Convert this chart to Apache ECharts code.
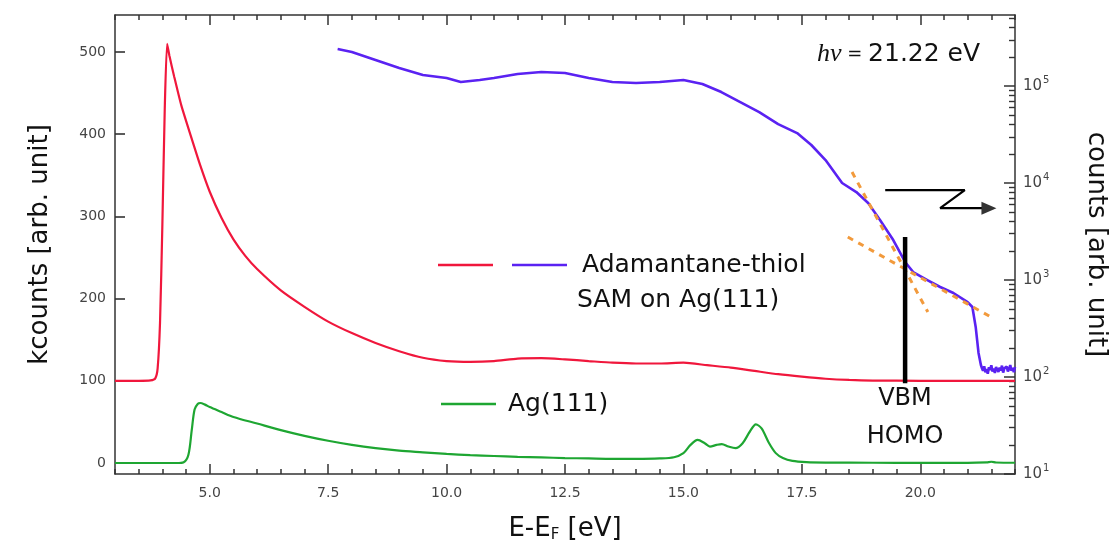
<!DOCTYPE html>
<html>
<head>
<meta charset="utf-8">
<script src="https://cdn.jsdelivr.net/npm/echarts@6/dist/echarts.min.js"></script>
<style>html,body{margin:0;padding:0;background:#fff}#main{width:1117px;height:548px}</style>
</head>
<body>
<div id="main"></div>
<script>
// E-EF [eV] / kcounts, Adamantane-thiol SAM (red, left axis)
var adaE = [3.0, 3.5, 3.75, 3.85, 3.9, 3.95, 4.0, 4.05, 4.1, 4.15, 4.25, 4.4, 4.6, 4.8, 5.0, 5.25, 5.5, 5.75, 6.0, 6.5, 7.0, 7.5, 8.0, 8.5, 9.0, 9.5, 10.0, 10.5, 11.0, 11.5, 12.0, 12.5, 13.0, 13.5, 14.0, 14.5, 15.0, 15.5, 16.0, 16.5, 17.0, 17.5, 18.0, 18.5, 19.0, 20.0, 21.0, 22.0];
var adaK = [100, 100, 100.5, 103, 115, 170, 290, 430, 510, 495, 470, 435, 398, 362, 330, 298, 272, 252, 236, 210, 190, 172, 158, 146, 136, 128, 124, 123, 124, 127, 127.5, 126, 124, 122, 121, 121, 122, 119, 116, 112, 108, 105, 102.5, 101, 100.3, 100, 100, 100];

// Ag(111) (green, left axis)
var agE = [3.0, 4.3, 4.45, 4.55, 4.62, 4.68, 4.75, 4.8, 4.9, 5.0, 5.25, 5.5, 6.0, 6.5, 7.0, 7.5, 8.0, 8.5, 9.0, 9.5, 10.0, 10.5, 11.0, 11.5, 12.0, 12.5, 13.0, 13.5, 14.0, 14.5, 14.8, 15.0, 15.15, 15.3, 15.45, 15.56, 15.7, 15.81, 15.95, 16.1, 16.25, 16.4, 16.53, 16.65, 16.8, 16.95, 17.1, 17.3, 17.6, 18.0, 19.0, 20.0, 21.0, 21.4, 21.5, 21.6, 22.0];
var agK = [0, 0, 1, 10, 40, 65, 72, 73, 71, 68, 62, 56, 48, 40, 33, 27, 22, 18, 15, 13, 11, 9.5, 8.5, 7.5, 6.8, 6, 5.5, 5, 5, 5.5, 7, 12, 22, 28, 24, 20, 22, 23, 20, 18, 24, 38, 47, 42, 25, 12, 6, 2.5, 1, 0.5, 0.3, 0.2, 0.2, 0.8, 1.5, 0.6, 0.3];

// SAM on log scale (blue, right axis), counts
var logE = [7.7, 8.0, 8.5, 9.0, 9.5, 10.0, 10.3, 10.7, 11.0, 11.5, 12.0, 12.5, 13.0, 13.5, 14.0, 14.5, 15.0, 15.4, 15.8, 16.2, 16.6, 17.0, 17.4, 17.7, 18.0, 18.35, 18.65, 18.9, 19.15, 19.43, 19.68, 19.85, 20.15, 20.42, 20.7, 21.0, 21.1, 21.17, 21.23, 21.28,
  21.3, 21.325, 21.35, 21.375, 21.4, 21.425, 21.45, 21.475, 21.5, 21.525, 21.55, 21.575, 21.6, 21.625, 21.65, 21.675, 21.7, 21.725, 21.75, 21.775, 21.8, 21.825, 21.85, 21.875, 21.9, 21.925, 21.95, 21.975, 22.0];
var logC = [240500, 224300, 185400, 153400, 129800, 120900, 109900, 115300, 120900, 133000, 139400, 136200, 120900, 109900, 107400, 109900, 115300, 104900, 86700, 68400, 53950, 40550, 32750, 24660, 17260, 10000, 8075, 6220, 4160, 2585, 1535, 1208, 1000, 847, 735, 593, 527, 328, 177, 133,
  124, 116, 129, 112, 121, 108, 126, 118, 132, 114, 122, 110, 127, 119, 113, 125, 117, 131, 111, 123, 118, 128, 114, 121, 133, 116, 124, 112, 127];

// tangent lines (right axis)
var tan1E = [18.56, 20.16], tan1C = [12970, 468];
var tan2E = [18.47, 21.49], tan2C = [2775, 416];

// VBM marker (left axis)
var vbmE = [19.68, 19.68], vbmK = [97, 275];

// arrow pointing to the right axis (left axis units)
var arrowE = [19.26, 20.94, 20.42, 21.3], arrowK = [332, 332, 310, 310];

// ticks
var xLabels = [5, 7.5, 10, 12.5, 15, 17.5, 20];
var xMinor = [];
for (var t = 3; t <= 22.001; t += 0.5) xMinor.push(+t.toFixed(1));
var yLeftTicks = [0, 100, 200, 300, 400, 500];
var yRightTicks = [10, 100, 1000, 10000, 100000];
var yRightMinor = [];
yRightTicks.forEach(function (d) {
  for (var k = 2; k <= 9; k++) yRightMinor.push(d * k);
});

function pairs(xs, ys) {
  return xs.map(function (x, i) { return [x, ys[i]]; });
}

var FONT = 'DejaVu Sans';
var AX = '#333';

var dom = document.getElementById('main');
var myChart = echarts.init(dom, null, { renderer: 'canvas' });

function xAx(pos, ticks, len, opts) {
  return Object.assign({
    type: 'value', gridIndex: 0, position: pos, min: 3, max: 22,
    axisLine: { show: false, onZero: false },
    axisTick: { show: true, inside: true, length: len, customValues: ticks, lineStyle: { color: AX, width: 1.5 } },
    axisLabel: { show: false },
    splitLine: { show: false }
  }, opts || {});
}

var option = {
  animation: false,
  grid: { left: 115, right: 102, top: 15, bottom: 74, outerBoundsMode: 'none' },
  xAxis: [
    xAx('bottom', xMinor, 5, {
      axisLine: { show: true, onZero: false, lineStyle: { color: AX, width: 1.5 } },
      axisLabel: {
        show: true, customValues: xLabels, margin: 12, fontSize: 14, fontFamily: FONT, color: '#444',
        formatter: function (v) { return v.toFixed(1); }
      },
      name: '{n|E-E}{s|F}{n| [eV]}', nameLocation: 'middle', nameGap: 42, nameMoveOverlap: false,
      nameTextStyle: {
        rich: {
          n: { fontSize: 26, fontFamily: FONT, color: '#111' },
          s: { fontSize: 15, fontFamily: FONT, color: '#111', padding: [12, 0, 0, 0] }
        }
      }
    }),
    xAx('bottom', xLabels, 10),
    xAx('top', xMinor, 5, { axisLine: { show: true, onZero: false, lineStyle: { color: AX, width: 1.5 } } }),
    xAx('top', xLabels, 10)
  ],
  yAxis: [
    {
      type: 'value', position: 'left', min: -13.4, max: 545,
      axisLine: { show: true, onZero: false, lineStyle: { color: AX, width: 1.5 } },
      axisTick: { show: true, inside: true, length: 10, customValues: yLeftTicks, lineStyle: { color: AX, width: 1.6 } },
      axisLabel: { customValues: yLeftTicks, margin: 9, fontSize: 14, fontFamily: FONT, color: '#444' },
      splitLine: { show: false },
      name: 'kcounts [arb. unit]', nameLocation: 'middle', nameGap: 62, nameRotate: 90, nameMoveOverlap: false,
      nameTextStyle: { fontSize: 26, fontFamily: FONT, color: '#111' }
    },
    {
      type: 'log', logBase: 10, position: 'right', min: 10, max: 540000,
      axisLine: { show: true, onZero: false, lineStyle: { color: AX, width: 1.5 } },
      axisTick: { show: true, inside: true, length: 11, customValues: yRightTicks, lineStyle: { color: AX, width: 1.5 } },
      axisLabel: {
        customValues: yRightTicks, margin: 8,
        formatter: function (v) { return '{b|10}{e|' + Math.round(Math.log10(v)) + '}'; },
        rich: {
          b: { fontSize: 15, fontFamily: FONT, color: '#444' },
          e: { fontSize: 10, fontFamily: FONT, color: '#444', padding: [0, 0, 12, 1] }
        }
      },
      splitLine: { show: false },
      name: 'counts [arb. unit]', nameLocation: 'middle', nameGap: 68, nameRotate: -90, nameMoveOverlap: false,
      nameTextStyle: { fontSize: 26, fontFamily: FONT, color: '#111' }
    },
    {
      type: 'log', logBase: 10, position: 'right', min: 10, max: 540000,
      axisLine: { show: false, onZero: false },
      axisTick: { show: true, inside: true, length: 6, customValues: yRightMinor, lineStyle: { color: AX, width: 1.4 } },
      axisLabel: { show: false },
      splitLine: { show: false }
    }
  ],
  series: [
    {
      name: 'Ag(111)', type: 'line', xAxisIndex: 0, yAxisIndex: 0, data: pairs(agE, agK),
      showSymbol: false, smooth: 0.3, lineStyle: { color: '#1ea632', width: 2.2 }, itemStyle: { color: '#1ea632' }
    },
    {
      name: 'Adamantane-thiol', type: 'line', xAxisIndex: 0, yAxisIndex: 0, data: pairs(adaE, adaK),
      showSymbol: false, smooth: 0.2, lineStyle: { color: '#f0173c', width: 2.2 }, itemStyle: { color: '#f0173c' }
    },
    {
      name: 'SAM log', type: 'line', xAxisIndex: 0, yAxisIndex: 1, data: pairs(logE, logC),
      showSymbol: false, lineStyle: { color: '#5a22f2', width: 2.6 }, itemStyle: { color: '#5a22f2' }
    },
    {
      name: 'tangent 1', type: 'line', xAxisIndex: 0, yAxisIndex: 1, data: pairs(tan1E, tan1C),
      showSymbol: false, lineStyle: { color: '#f29a3c', width: 3, type: [6, 6] }
    },
    {
      name: 'tangent 2', type: 'line', xAxisIndex: 0, yAxisIndex: 1, data: pairs(tan2E, tan2C),
      showSymbol: false, lineStyle: { color: '#f29a3c', width: 3, type: [6, 6] }
    },
    {
      name: 'VBM', type: 'line', xAxisIndex: 0, yAxisIndex: 0, data: pairs(vbmE, vbmK),
      showSymbol: false, lineStyle: { color: '#000', width: 4.5, cap: 'butt' }
    },
    {
      name: 'arrow', type: 'line', xAxisIndex: 0, yAxisIndex: 0, data: pairs(arrowE, arrowK),
      showSymbol: false, lineStyle: { color: '#000', width: 2.2 }
    },
    {
      name: 'arrow head', type: 'scatter', xAxisIndex: 0, yAxisIndex: 0, data: [[21.45, 310]],
      symbol: 'triangle', symbolSize: [13, 15], symbolRotate: -90, itemStyle: { color: '#000' }
    }
  ],
  graphic: [
    { type: 'line', shape: { x1: 438, y1: 265, x2: 493, y2: 265 }, style: { stroke: '#f0173c', lineWidth: 2.5 } },
    { type: 'line', shape: { x1: 512, y1: 265, x2: 567, y2: 265 }, style: { stroke: '#5a22f2', lineWidth: 2.5 } },
    { type: 'text', x: 582, y: 265, style: { text: 'Adamantane-thiol', font: '25px "DejaVu Sans"', fill: '#111', verticalAlign: 'middle' } },
    { type: 'text', x: 577, y: 300, style: { text: 'SAM on Ag(111)', font: '25px "DejaVu Sans"', fill: '#111', verticalAlign: 'middle' } },
    { type: 'line', shape: { x1: 441, y1: 404, x2: 496, y2: 404 }, style: { stroke: '#1ea632', lineWidth: 2.5 } },
    { type: 'text', x: 508, y: 404, style: { text: 'Ag(111)', font: '25px "DejaVu Sans"', fill: '#111', verticalAlign: 'middle' } },
    { type: 'text', x: 905, y: 399, style: { text: 'VBM', font: '24px "DejaVu Sans"', fill: '#111', align: 'center', verticalAlign: 'middle' } },
    { type: 'text', x: 905, y: 437, style: { text: 'HOMO', font: '24px "DejaVu Sans"', fill: '#111', align: 'center', verticalAlign: 'middle' } },
    {
      type: 'text', x: 817, y: 54,
      style: {
        text: '{i|hν}{q| = }{n|21.22 eV}', verticalAlign: 'middle',
        rich: {
          i: { font: 'italic 26px "Liberation Serif"', fill: '#111' },
          q: { font: '18px "DejaVu Sans"', fill: '#111' },
          n: { font: '25px "DejaVu Sans"', fill: '#111' }
        }
      }
    }
  ]
};

myChart.setOption(option);
window.addEventListener('resize', myChart.resize);
</script>
</body>
</html>
